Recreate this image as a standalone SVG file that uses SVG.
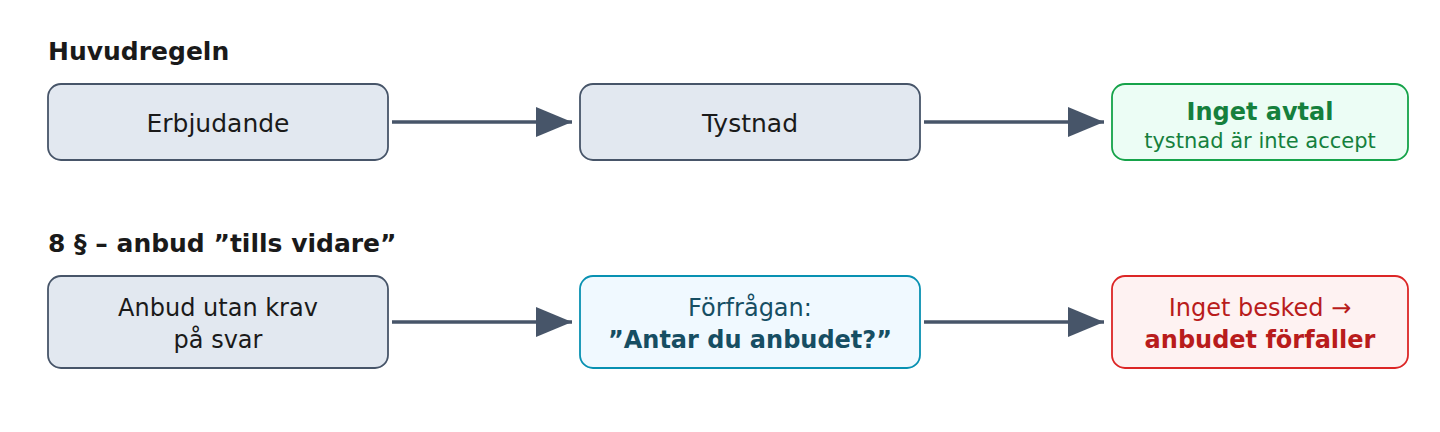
<svg xmlns="http://www.w3.org/2000/svg" width="1440" height="432" viewBox="0 0 1440 432">
  <style>
    text { font-family: "DejaVu Sans", Verdana, sans-serif; }
    .title { font-size: 25px; font-weight: bold; fill: #1a1a1a; }
    .lbl { font-size: 24px; text-anchor: middle; }
    .big { font-size: 25px; }
    .sub { font-size: 21px; text-anchor: middle; }
    .b { font-weight: bold; }
    .neutral rect { fill: #e2e8f0; stroke: #475569; stroke-width: 1.8; }
    .neutral text { fill: #1a1a1a; }
    .ok rect { fill: #ecfdf5; stroke: #16a34a; stroke-width: 1.8; }
    .ok text { fill: #15803d; }
    .info rect { fill: #f0f9ff; stroke: #0891b2; stroke-width: 1.8; }
    .info text { fill: #164e63; }
    .bad rect { fill: #fef2f2; stroke: #dc2626; stroke-width: 1.8; }
    .bad text { fill: #b91c1c; }
    .conn { stroke: #475569; stroke-width: 3.5; fill: none; marker-end: url(#arrow); }
  </style>
  <defs>
    <marker id="arrow" markerUnits="userSpaceOnUse" markerWidth="36" markerHeight="30" refX="36" refY="15" orient="auto">
      <path d="M0,0 L36,15 L0,30 Z" fill="#475569"/>
    </marker>
  </defs>
  <rect width="1440" height="432" fill="#ffffff"/>

  <text id="title1" class="title" x="48" y="60">Huvudregeln</text>
  <text id="title2" class="title" x="48" y="252">8 § – anbud ”tills vidare”</text>

  <g id="connectors">
    <line class="conn" x1="392" y1="122" x2="572" y2="122"/>
    <line class="conn" x1="924" y1="122" x2="1104" y2="122"/>
    <line class="conn" x1="392" y1="322" x2="572" y2="322"/>
    <line class="conn" x1="924" y1="322" x2="1104" y2="322"/>
  </g>

  <g id="erbjudande" class="neutral">
    <rect x="48" y="84" width="340" height="76" rx="13"/>
    <text class="lbl big" x="218" y="131.5">Erbjudande</text>
  </g>
  <g id="tystnad" class="neutral">
    <rect x="580" y="84" width="340" height="76" rx="13"/>
    <text class="lbl big" x="750" y="131.5">Tystnad</text>
  </g>
  <g id="inget-avtal" class="ok">
    <rect x="1112" y="84" width="296" height="76" rx="13"/>
    <text class="lbl b" x="1260" y="120">Inget avtal</text>
    <text class="sub" x="1260" y="147.5">tystnad är inte accept</text>
  </g>

  <g id="anbud" class="neutral">
    <rect x="48" y="276" width="340" height="92" rx="13"/>
    <text class="lbl" x="218" y="316">Anbud utan krav</text>
    <text class="lbl" x="218" y="348">på svar</text>
  </g>
  <g id="forfragan" class="info">
    <rect x="580" y="276" width="340" height="92" rx="13"/>
    <text class="lbl" x="750" y="316">Förfrågan:</text>
    <text class="lbl b" x="750" y="348">”Antar du anbudet?”</text>
  </g>
  <g id="forfaller" class="bad">
    <rect x="1112" y="276" width="296" height="92" rx="13"/>
    <text class="lbl" x="1260" y="316">Inget besked →</text>
    <text class="lbl b" x="1260" y="348">anbudet förfaller</text>
  </g>
</svg>
